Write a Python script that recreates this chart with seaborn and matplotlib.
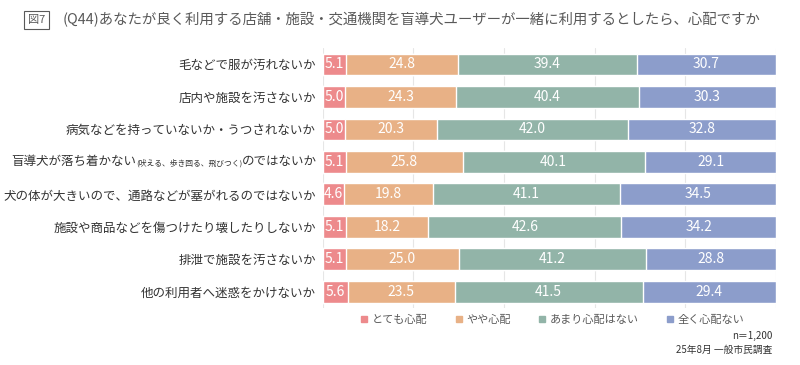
import matplotlib
matplotlib.use("Agg")
import matplotlib.pyplot as plt
from matplotlib.lines import Line2D
import numpy as np
import pandas as pd
import seaborn as sns

CATEGORIES = [
    "毛などで服が汚れないか",
    "店内や施設を汚さないか",
    "病気などを持っていないか・うつされないか",
    "盲導犬が落ち着かない(吠える、歩き回る、飛びつく)のではないか",
    "犬の体が大きいので、通路などが塞がれるのではないか",
    "施設や商品などを傷つけたり壊したりしないか",
    "排泄で施設を汚さないか",
    "他の利用者へ迷惑をかけないか",
]
SERIES = ["とても心配", "やや心配", "あまり心配はない", "全く心配ない"]
VERY = [5.1, 5.0, 5.0, 5.1, 4.6, 5.1, 5.1, 5.6]
SOME = [24.8, 24.3, 20.3, 25.8, 19.8, 18.2, 25.0, 23.5]
NOT_MUCH = [39.4, 40.4, 42.0, 40.1, 41.1, 42.6, 41.2, 41.5]
NOT_AT_ALL = [30.7, 30.3, 32.8, 29.1, 34.5, 34.2, 28.8, 29.4]

COLORS = ["#ED8A8C", "#E8B186", "#92B4A8", "#8C9DCB"]
TEXT = "#595959"
LABEL = "#333333"
FONT = ["Noto Sans CJK JP", "DejaVu Sans"]

sns.set_theme(style="white")
plt.rcParams["font.family"] = FONT

df = pd.DataFrame({"cat": CATEGORIES, SERIES[0]: VERY, SERIES[1]: SOME,
                   SERIES[2]: NOT_MUCH, SERIES[3]: NOT_AT_ALL})
vals = df[SERIES].to_numpy()
cum = vals.cumsum(axis=1)

fig = plt.figure(figsize=(8, 3.65), dpi=100)
ax = fig.add_axes([0.4034, 0.156, 0.5666, 0.712])

# stacked bars: draw the cumulative totals from the widest down
for i in range(len(SERIES) - 1, -1, -1):
    sns.barplot(x=cum[:, i], y=df["cat"], color=COLORS[i], orient="h",
                width=0.67, saturation=1, ax=ax, zorder=2)

for r in range(len(CATEGORIES)):
    for i in range(len(SERIES)):
        left = cum[r, i] - vals[r, i]
        ax.text(left + vals[r, i] / 2, r, f"{vals[r, i]:.1f}", ha="center", va="center",
                color="white", fontsize=10, zorder=3)

ax.set_xlim(0, 100)
ax.set_xticks([0, 20, 40, 60, 80, 100])
ax.xaxis.grid(True, color="#E6E6E6", linewidth=0.8, zorder=0)
ax.set_axisbelow(True)
ax.tick_params(axis="x", length=0, labelbottom=False)
ax.tick_params(axis="y", length=0, pad=5)
ax.set_xlabel("")
ax.set_ylabel("")
for s in ax.spines.values():
    s.set_visible(False)

# category labels, the fourth one gets a smaller parenthetical
ax.set_yticklabels([c if k != 3 else "" for k, c in enumerate(CATEGORIES)])
for t in ax.get_yticklabels():
    t.set_fontsize(9)
    t.set_color(LABEL)

tr = ax.get_yaxis_transform()
p3 = ax.text(-0.012, 3, "のではないか", transform=tr, ha="right", va="center",
             fontsize=9, color=LABEL)
p2 = ax.annotate("(吠える、歩き回る、飛びつく)", xy=(0, 0.4), xycoords=p3,
                 ha="right", va="center", fontsize=5.6, color=LABEL)
ax.annotate("盲導犬が落ち着かない", xy=(0, 0.5), xycoords=p3,
            xytext=(-p2.get_window_extent(fig.canvas.get_renderer()).width, 0),
            textcoords="offset pixels", ha="right", va="center", fontsize=9, color=LABEL)

# title
fig.text(0.035, 0.945, "図7", fontsize=8, color=TEXT, ha="left", va="center",
         bbox=dict(boxstyle="square,pad=0.35", fc="white", ec=TEXT, lw=0.8))
fig.text(0.078, 0.945, "(Q44)あなたが良く利用する店舗・施設・交通機関を盲導犬ユーザーが一緒に利用するとしたら、心配ですか",
         fontsize=10.4, color=TEXT, ha="left", va="center")

handles = [Line2D([], [], marker="s", linestyle="", markersize=5, color=c) for c in COLORS]
fig.legend(handles, SERIES, loc="center", bbox_to_anchor=(0.69, 0.123), ncol=4,
           frameon=False, fontsize=8, labelcolor=TEXT, handletextpad=0.3,
           columnspacing=2.4, handlelength=0.8)

fig.text(0.966, 0.079, "n＝1,200", fontsize=7, color=LABEL, ha="right", va="center")
fig.text(0.966, 0.041, "25年8月 一般市民調査", fontsize=7, color=LABEL, ha="right", va="center")

fig.savefig("out.png", dpi=100)
